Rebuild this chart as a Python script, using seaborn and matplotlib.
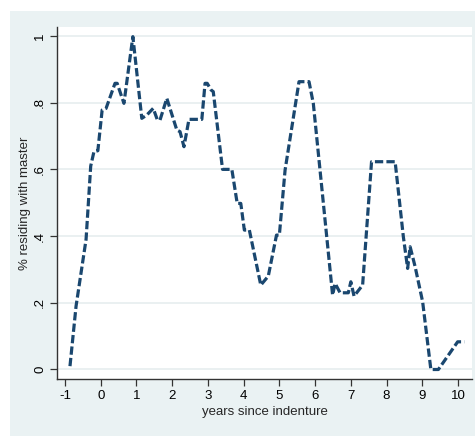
import matplotlib

matplotlib.use("Agg")
import matplotlib.pyplot as plt  # noqa: E402
import pandas as pd  # noqa: E402
import seaborn as sns  # noqa: E402

# values
YEARS = [-0.86, -0.69, -0.41, -0.28, -0.19, -0.08, 0.04, 0.15, 0.40, 0.46, 0.65, 0.90,
         1.15, 1.29, 1.47, 1.58, 1.66, 1.85, 2.13, 2.22, 2.33, 2.47, 2.83, 2.92, 2.98,
         3.09, 3.15, 3.41, 3.67, 3.82, 3.92, 4.02, 4.16, 4.48, 4.69, 4.92, 5.00, 5.16,
         5.55, 5.83, 5.95, 6.49, 6.56, 6.70, 6.93, 7.00, 7.09, 7.33, 7.58, 8.24, 8.47,
         8.59, 8.66, 8.80, 9.01, 9.24, 9.45, 9.73, 9.99, 10.18]
SHARE = [0.01, 0.19, 0.39, 0.61, 0.653, 0.656, 0.778, 0.783, 0.858, 0.858, 0.798, 0.998,
         0.753, 0.763, 0.783, 0.75, 0.748, 0.813, 0.718, 0.713, 0.668, 0.75, 0.75, 0.858, 0.858,
         0.838, 0.833, 0.60, 0.60, 0.498, 0.498, 0.418, 0.418, 0.253, 0.28, 0.403, 0.403, 0.598,
         0.863, 0.863, 0.798, 0.223, 0.258, 0.23, 0.23, 0.263, 0.22, 0.253, 0.623, 0.623, 0.398,
         0.303, 0.368, 0.308, 0.203, 0.0, 0.0, 0.043, 0.083, 0.083]
X_TICKS = list(range(-1, 11))
Y_TICKS = [0, 0.2, 0.4, 0.6, 0.8, 1.0]
Y_TICK_LABELS = ["0", ".2", ".4", ".6", ".8", "1"]

NAVY = "#1a476f"
PANEL = "#eaf2f3"
GRID = "#e6eeef"

sns.set_theme(style="white")
plt.rcParams["font.family"] = ["Liberation Sans", "DejaVu Sans"]
plt.rcParams["axes.unicode_minus"] = False

df = pd.DataFrame({"years": YEARS, "share": SHARE})

fig = plt.figure(figsize=(4.75, 4.36), dpi=100, facecolor="white")
# Stata-style outer panel behind the plot region
bg = fig.add_axes([10 / 475, 0, 1 - 10 / 475, 1 - 11 / 436], zorder=-1)
bg.set_facecolor(PANEL)
bg.set_xticks([]); bg.set_yticks([])
for s in bg.spines.values():
    s.set_visible(False)

ax = fig.add_axes([57.3 / 475, 1 - 378.7 / 436, (471.7 - 57.3) / 475, (378.7 - 27.3) / 436])
ax.set_facecolor("white")

sns.lineplot(data=df, x="years", y="share", color=NAVY, lw=2.3, ax=ax,
             linestyle=(0, (2.6, 1.0)), dash_capstyle="butt")

ax.set_xlim(-1.215, 10.383)
ax.set_ylim(-0.0276, 1.026)
ax.set_xticks(X_TICKS)
ax.set_yticks(Y_TICKS)
ax.set_yticklabels(Y_TICK_LABELS, rotation=90, va="center")
ax.yaxis.grid(True, color=GRID, lw=1.2)
ax.xaxis.grid(False)
for side in ["top", "right"]:
    ax.spines[side].set_visible(False)
for side in ["left", "bottom"]:
    ax.spines[side].set_color("#333333")
    ax.spines[side].set_linewidth(1.0)
ax.tick_params(axis="both", direction="out", length=5, width=0.9, color="#333333",
               labelsize=9.5, labelcolor="black", pad=3)
ax.tick_params(axis="x", bottom=True)
ax.tick_params(axis="y", left=True)
ax.set_xlabel("years since indenture", fontsize=9.5, labelpad=3)
ax.set_ylabel("% residing with master", fontsize=9.5, labelpad=2)

fig.savefig("out.png", dpi=100, facecolor="white")
